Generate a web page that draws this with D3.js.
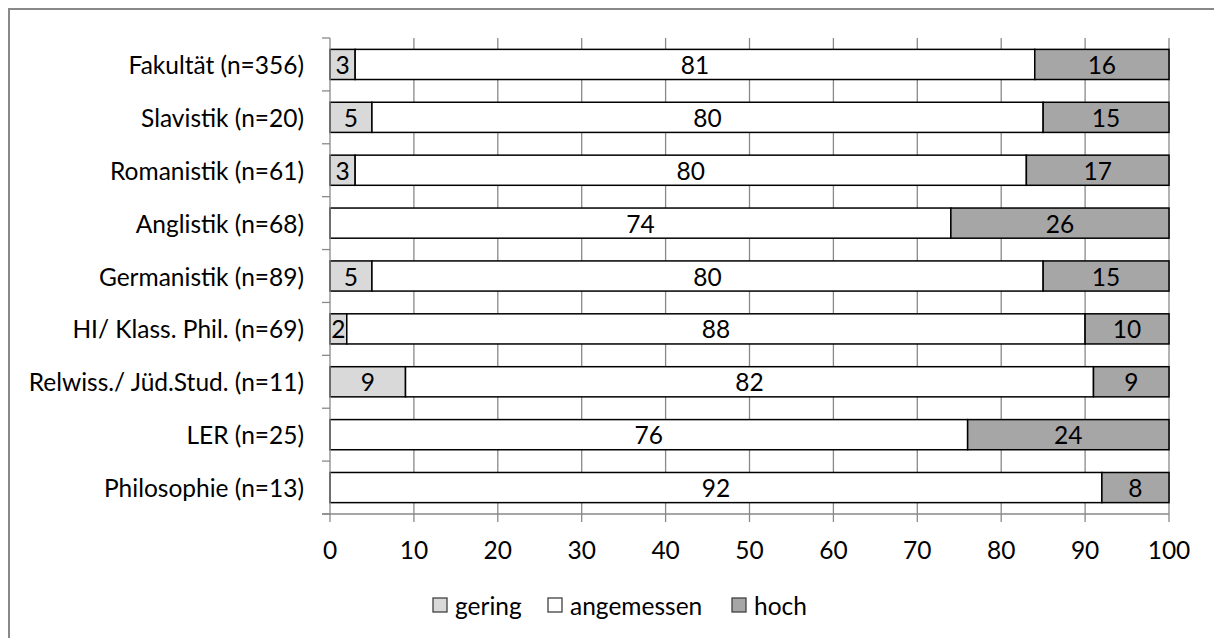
<!DOCTYPE html>
<html>
<head>
<meta charset="utf-8">
<script src="https://cdn.jsdelivr.net/npm/d3@7"></script>
<style>
html,body{margin:0;padding:0;background:#fff;}
svg text{font-family:Lato, "Open Sans", sans-serif;fill:#000;}
</style>
</head>
<body>
<svg id="chart" width="1214" height="638"></svg>
<script>
const categories = ["Fakultät (n=356)","Slavistik (n=20)","Romanistik (n=61)","Anglistik (n=68)","Germanistik (n=89)","HI/ Klass. Phil. (n=69)","Relwiss./ Jüd.Stud. (n=11)","LER (n=25)","Philosophie (n=13)"];
const gering = [3,5,3,0,5,2,9,0,0];
const angemessen = [81,80,80,74,80,88,82,76,92];
const hoch = [16,15,17,26,15,10,9,24,8];
const seriesNames = ["gering","angemessen","hoch"];
const seriesColors = ["#d9d9d9","#ffffff","#a6a6a6"];
const xTicks = [0,10,20,30,40,50,60,70,80,90,100];

const svg = d3.select("#chart");
const fs = 24.5;
const pLeft = 330, pRight = 1169, pTop = 38, pBottom = 514;

// outer border (only top/left visible)
svg.append("rect").attr("x",9).attr("y",9).attr("width",1300).attr("height",700)
  .attr("fill","none").attr("stroke","#898989").attr("stroke-width",2);

const x = d3.scaleLinear().domain([0,100]).range([pLeft,pRight]);
const y = d3.scaleBand().domain(categories).range([pTop,pBottom]).paddingInner(0.43).paddingOuter(0.215);
const yb = d3.scaleBand().domain(categories).range([pTop,pBottom]);

// gridlines
svg.append("g").selectAll("line").data(xTicks.filter(d=>d>0)).join("line")
  .attr("x1",d=>x(d)).attr("x2",d=>x(d)).attr("y1",pTop).attr("y2",pBottom)
  .attr("stroke","#898989").attr("stroke-width",1.3);

// stacked data
const rows = categories.map((c,i)=>({cat:c, gering:gering[i], angemessen:angemessen[i], hoch:hoch[i]}));
const stack = d3.stack().keys(seriesNames)(rows);

stack.forEach((layer,si)=>{
  const g = svg.append("g");
  const pts = layer.filter(d=>d[1]-d[0]>0);
  g.selectAll("rect").data(pts).join("rect")
    .attr("x",d=>x(d[0])).attr("width",d=>x(d[1])-x(d[0]))
    .attr("y",d=>y(d.data.cat)).attr("height",y.bandwidth())
    .attr("fill",seriesColors[si]).attr("stroke","#000").attr("stroke-width",1.5);
});
stack.forEach((layer,si)=>{
  const g = svg.append("g");
  const pts = layer.filter(d=>d[1]-d[0]>0);
  g.selectAll("text").data(pts).join("text")
    .attr("x",d=>x((d[0]+d[1])/2)).attr("y",d=>y(d.data.cat)+y.bandwidth()/2)
    .attr("text-anchor","middle").attr("dominant-baseline","central")
    .attr("font-size",fs).text(d=>d[1]-d[0]);
});

// y axis
const yAxis = svg.append("g");
yAxis.append("line").attr("x1",pLeft).attr("x2",pLeft).attr("y1",pTop).attr("y2",pBottom)
  .attr("stroke","#898989").attr("stroke-width",1.3);
const bounds = categories.map(c=>yb(c)).concat([pBottom]);
yAxis.selectAll("line.t").data(bounds).join("line").attr("class","t")
  .attr("x1",pLeft-8).attr("x2",pLeft).attr("y1",d=>d).attr("y2",d=>d)
  .attr("stroke","#898989").attr("stroke-width",1.3);
yAxis.selectAll("text").data(categories).join("text")
  .attr("x",304).attr("y",d=>yb(d)+yb.bandwidth()/2)
  .attr("text-anchor","end").attr("dominant-baseline","central")
  .attr("font-size",fs).text(d=>d);

// x axis
const xAxis = svg.append("g");
xAxis.append("line").attr("x1",pLeft-8).attr("x2",pRight).attr("y1",pBottom).attr("y2",pBottom)
  .attr("stroke","#898989").attr("stroke-width",1.3);
xAxis.selectAll("line.t").data(xTicks).join("line").attr("class","t")
  .attr("x1",d=>x(d)).attr("x2",d=>x(d)).attr("y1",pBottom).attr("y2",pBottom+8)
  .attr("stroke","#898989").attr("stroke-width",1.3);
xAxis.selectAll("text").data(xTicks).join("text")
  .attr("x",d=>x(d)).attr("y",549)
  .attr("text-anchor","middle").attr("dominant-baseline","central")
  .attr("font-size",fs).text(d=>d);

// legend
const legendX = [433,548,732];
const lg = svg.append("g");
seriesNames.forEach((n,i)=>{
  lg.append("rect").attr("x",legendX[i]).attr("y",598).attr("width",14).attr("height",14)
    .attr("fill",seriesColors[i]).attr("stroke","#404040").attr("stroke-width",1.3);
  lg.append("text").attr("x",legendX[i]+22).attr("y",605).attr("dominant-baseline","central")
    .attr("font-size",fs).text(n);
});
</script>
</body>
</html>
